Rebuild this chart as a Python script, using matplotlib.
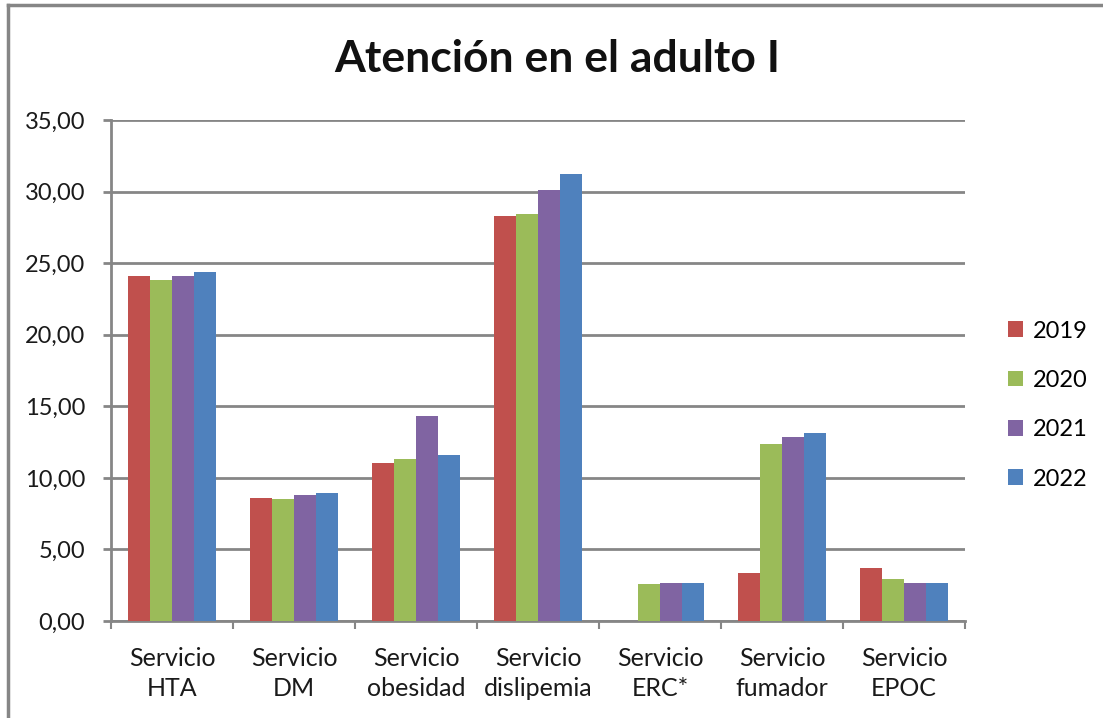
import matplotlib.pyplot as plt
import numpy as np
from matplotlib.lines import Line2D

# data
categories = ["Servicio\nHTA", "Servicio\nDM", "Servicio\nobesidad", "Servicio\ndislipemia",
              "Servicio\nERC*", "Servicio\nfumador", "Servicio\nEPOC"]
years = ["2019", "2020", "2021", "2022"]
v2019 = [24.12, 8.61, 11.04, 28.26, 0.0, 3.38, 3.71]
v2020 = [23.84, 8.54, 11.33, 28.45, 2.55, 12.37, 2.91]
v2021 = [24.12, 8.80, 14.35, 30.13, 2.65, 12.84, 2.65]
v2022 = [24.40, 8.96, 11.59, 31.21, 2.65, 13.12, 2.65]
yticks = [0, 5, 10, 15, 20, 25, 30, 35]

colors = ["#C0504D", "#9BBB59", "#8064A2", "#4F81BD"]
gridColor = "#868686"
textColor = "#1a1a1a"

plt.rcParams['font.family'] = ['Lato', 'DejaVu Sans']

fig = plt.figure(figsize=(11.03, 7.18), dpi=100)
ax = fig.add_axes([111 / 1103, 1 - 621 / 718, (965 - 111) / 1103, (621 - 120) / 718])

x = np.arange(len(categories))
barWidth = 0.18
series = [v2019, v2020, v2021, v2022]
for i, values in enumerate(series):
    ax.bar(x + (i - 1.5) * barWidth, values, barWidth, color=colors[i], label=years[i], zorder=3)

ax.set_xlim(-0.5, len(categories) - 0.5)
ax.set_ylim(0, 35)
ax.set_yticks(yticks)
ax.set_yticklabels([("%.2f" % t).replace(".", ",") for t in yticks])
ax.yaxis.grid(True, color=gridColor, linewidth=2, zorder=0)
ax.set_axisbelow(True)

ax.set_xticks(x)
ax.set_xticklabels(categories, fontsize=18, color=textColor, linespacing=1.35)
ax.set_xticks(np.arange(len(categories) + 1) - 0.5, minor=True)
ax.tick_params(axis='x', which='major', length=0, pad=19)
ax.tick_params(axis='x', which='minor', length=5.5, width=1.5, color=gridColor, direction='out')
ax.tick_params(axis='y', length=5.5, width=2, color=gridColor, labelsize=17, labelcolor=textColor, pad=13)

for side in ["top", "right"]:
    ax.spines[side].set_visible(False)
for side in ["left", "bottom"]:
    ax.spines[side].set_color(gridColor)
    ax.spines[side].set_linewidth(2)

fig.text(557 / 1103, 1 - 59 / 718, "Atención en el adulto I", fontsize=32, fontweight='bold',
         ha='center', va='center', color="#111111")

ax.legend(loc='center left', bbox_to_anchor=((1008 - 9) / 1103, 1 - 405 / 718), bbox_transform=fig.transFigure,
          frameon=False, fontsize=17, handlelength=0.63, handleheight=0.63, handletextpad=0.4,
          labelspacing=1.2, borderpad=0.4, borderaxespad=0)

# outer chart frame (left and top edges visible)
for xs, ys in [([8, 8], [5, 718]), ([8, 1103], [5, 5])]:
    fig.add_artist(Line2D([v / 1103 for v in xs], [1 - v / 718 for v in ys],
                          color=gridColor, linewidth=2.5, transform=fig.transFigure))

fig.savefig("out.png", dpi=100)
